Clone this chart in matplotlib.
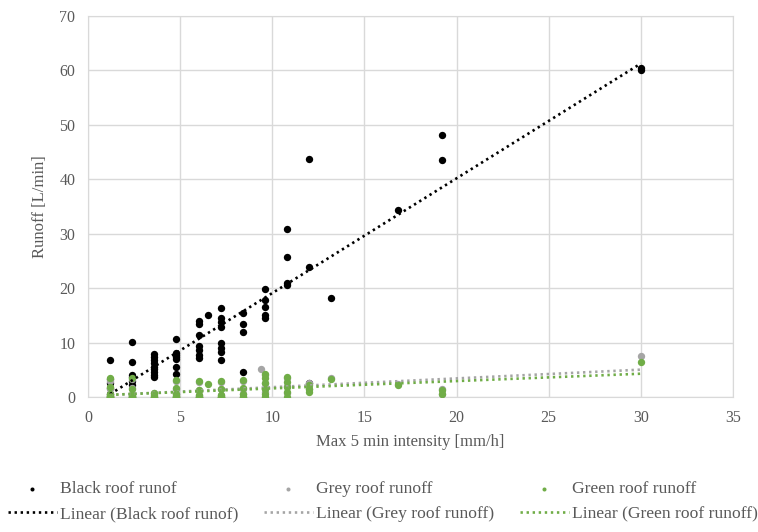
import numpy as np
import matplotlib
matplotlib.use("Agg")
import matplotlib.pyplot as plt

# ---- data: max 5 min intensity [mm/h] vs runoff [L/min] ----

black_x = [1.2, 1.2, 1.2, 1.2, 1.2,
           2.4, 2.4, 2.4, 2.4, 2.4, 2.4,
           3.6, 3.6, 3.6, 3.6, 3.6, 3.6, 3.6, 3.6, 3.6,
           4.8, 4.8, 4.8, 4.8, 4.8, 4.8, 4.8,
           6.0, 6.0, 6.0, 6.0, 6.0, 6.0, 6.0,
           6.5,
           7.2, 7.2, 7.2, 7.2, 7.2, 7.2, 7.2, 7.2,
           8.4, 8.4, 8.4, 8.4,
           9.6, 9.6, 9.6, 9.6, 9.6,
           10.8, 10.8, 10.8, 10.8,
           12.0, 12.0, 12.0,
           13.2, 16.8, 19.2, 19.2, 30.0, 30.0]
black_y = [6.8, 3.3, 2.6, 1.6, 0.6,
           10.1, 6.4, 4.0, 3.6, 3.0, 2.2,
           7.9, 7.3, 6.8, 6.2, 5.6, 5.1, 4.6, 4.0, 3.6,
           10.6, 8.0, 7.4, 6.9, 5.5, 4.2, 7.7,
           14.0, 13.5, 11.3, 9.3, 8.6, 7.8, 7.2,
           15.0,
           16.3, 14.5, 13.8, 12.9, 10.0, 9.0, 8.2, 6.8,
           15.4, 13.4, 12.0, 4.6,
           19.8, 17.8, 16.5, 15.1, 14.6,
           30.9, 25.7, 21.0, 20.5,
           43.8, 23.9, 2.5,
           18.2, 34.4, 48.2, 43.6, 60.5, 60.0]

grey_x = [1.2, 1.2, 1.2, 1.2, 1.2, 1.2, 1.2,
          2.4, 2.4, 2.4, 2.4, 2.4, 2.4, 2.4,
          3.6, 3.6, 3.6,
          4.8, 4.8, 4.8, 4.8, 4.8,
          6.0, 6.0, 6.0, 6.0, 6.0,
          7.2, 7.2, 7.2, 7.2, 7.2,
          8.4, 8.4, 8.4, 8.4,
          9.4, 9.6, 9.6, 9.6, 9.6,
          10.8, 10.8, 10.8,
          12.0, 12.0,
          13.2, 16.8, 19.2, 19.2, 30.0]
grey_y = [3.0, 1.5, 0.4, 0.0, 0.0, 0.0, 0.0,
          3.3, 1.6, 0.5, 0.0, 0.0, 0.0, 0.0,
          0.8, 0.0, 0.0,
          3.0, 1.4, 0.5, 0.0, 0.0,
          2.7, 1.2, 0.3, 0.0, 0.0,
          2.8, 1.4, 0.4, 0.0, 0.0,
          3.0, 1.5, 0.5, 0.0,
          5.2, 4.0, 2.5, 1.0, 0.0,
          3.5, 2.0, 0.8,
          2.5, 1.5,
          3.4, 2.4, 1.4, 0.5, 7.6]

green_x = [1.2, 1.2, 1.2, 1.2, 1.2, 1.2, 1.2, 1.2,
           2.4, 2.4, 2.4, 2.4, 2.4, 2.4, 2.4,
           3.6, 3.6, 3.6, 3.6,
           4.8, 4.8, 4.8, 4.8, 4.8, 4.8, 4.8,
           6.0, 6.0, 6.0, 6.0, 6.0, 6.0,
           6.5,
           7.2, 7.2, 7.2, 7.2, 7.2, 7.2,
           8.4, 8.4, 8.4, 8.4, 8.4,
           9.6, 9.6, 9.6, 9.6, 9.6, 9.6,
           10.8, 10.8, 10.8, 10.8, 10.8,
           12.0, 12.0, 12.0,
           13.2, 16.8, 19.2, 19.2, 30.0]
green_y = [3.5, 1.8, 0.5, 0.2, 0.1, 0.0, 0.0, 0.0,
           3.4, 1.5, 0.4, 0.1, 0.0, 0.0, 0.0,
           0.7, 0.4, 0.0, 0.0,
           3.2, 1.6, 0.5, 0.2, 0.0, 0.0, 0.0,
           2.9, 1.2, 0.3, 0.0, 0.0, 0.0,
           2.4,
           3.0, 1.4, 0.4, 0.0, 0.0, 0.0,
           3.2, 1.7, 0.5, 0.0, 0.0,
           4.3, 3.5, 2.6, 1.5, 0.5, 0.0,
           3.7, 2.8, 1.8, 0.9, 0.0,
           2.2, 1.5, 1.0,
           3.3, 2.2, 1.3, 0.6, 6.5]

series = [
    ("Black roof runof", black_x, black_y, "#000000"),
    ("Grey roof runoff", grey_x, grey_y, "#a5a5a5"),
    ("Green roof runoff", green_x, green_y, "#70ad47"),
]

TXT = "#595959"
GRID = "#d9d9d9"

plt.rcParams["font.family"] = ["Liberation Serif", "DejaVu Serif"]

fig = plt.figure(figsize=(7.58, 5.32), dpi=100)
ax = fig.add_axes([88 / 758, 1 - 397 / 532, (733 - 88) / 758, (397 - 16) / 532])

handles = []
for name, xs, ys, col in series:
    xs = np.asarray(xs)
    ys = np.asarray(ys)
    pts = ax.scatter(xs, ys, s=28, color=col, zorder=3, label=name, linewidths=0)
    # linear trendline over the data range
    k, b = np.polyfit(xs, ys, 1)
    xx = np.array([xs.min(), xs.max()])
    ln, = ax.plot(xx, k * xx + b, color=col, lw=1.9, linestyle=(0, (0.9, 1.4)),
                  zorder=4, label="Linear (%s)" % name)
    handles += [pts, ln]

ax.set_xlim(0, 35)
ax.set_ylim(0, 70)
ax.set_xticks(range(0, 36, 5))
ax.set_yticks(range(0, 71, 10))
ax.grid(True, color=GRID, lw=1)
ax.set_axisbelow(True)
for sp in ax.spines.values():
    sp.set_color(GRID)
ax.tick_params(length=0, labelsize=11.5, colors=TXT, pad=9)
ax.set_xlabel("Max 5 min intensity [mm/h]", fontsize=12, color=TXT, labelpad=6)
ax.set_ylabel("Runoff [L/min]", fontsize=12, color=TXT, labelpad=8)

fig.legend(handles=handles, loc="upper left", bbox_to_anchor=(0.01, 1 - 481 / 532),
           ncol=3, frameon=False, fontsize=12.6, labelcolor=TXT,
           handlelength=2.8, handletextpad=0.2, columnspacing=1.45,
           markerscale=0.55, labelspacing=0.5, borderpad=0, borderaxespad=0)

fig.savefig("out.png", dpi=100)
